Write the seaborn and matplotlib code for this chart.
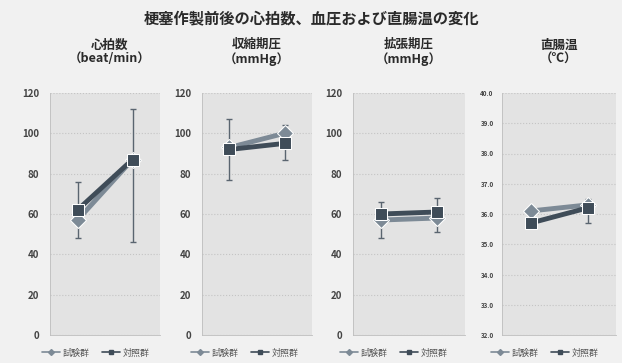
import numpy as np
import pandas as pd
import matplotlib
matplotlib.use("Agg")
import matplotlib.pyplot as plt
import seaborn as sns

sns.set_theme(style="white")
plt.rcParams['font.family'] = ['Noto Sans CJK JP', 'DejaVu Sans']

title = "梗塞作製前後の心拍数、血圧および直腸温の変化"
panel_titles = ["心拍数\n（beat/min）", "収縮期圧\n（mmHg）", "拡張期圧\n（mmHg）", "直腸温\n（℃）"]
groups = ["試験群", "対照群"]
timepoints = ["前", "後"]

# means: [before, after]
test_mean = [[57, 87], [93, 100], [57, 58], [36.1, 36.3]]
ctrl_mean = [[62, 87], [92, 95], [60, 61], [35.7, 36.2]]
# test group errors drawn downward, control group errors drawn upward
test_err = [[9, 41], [16, 13], [9, 7], [0.3, 0.6]]
ctrl_err = [[14, 25], [15, 9], [6, 7], [0.2, 0.3]]

yticks = [list(range(0, 121, 20))] * 3 + [[32.0 + i for i in range(9)]]
ylims = [(0, 120)] * 3 + [(32.0, 40.0)]

fig = plt.figure(figsize=(6.22, 3.63), dpi=100)
fig.patch.set_facecolor("#f1f1f1")

W, H = 622, 363
boxes = [(50, 160), (202, 312), (353, 465), (502, 616)]
legend_cx = [96, 245, 394, 545]
top_px, bot_px = 93, 335

col_test = "#7d8a96"
col_ctrl = "#3f4c58"

fig.text(0.5, 1 - 18 / H, title, ha="center", va="center",
         fontsize=11, fontweight="bold", color="#2a2a2a")

for i, (x0, x1) in enumerate(boxes):
    ax = fig.add_axes([x0 / W, 1 - bot_px / H, (x1 - x0) / W, (bot_px - top_px) / H])
    ax.set_facecolor("#e3e3e3")
    df = pd.DataFrame({
        "t": [0, 1, 0, 1],
        "v": test_mean[i] + ctrl_mean[i],
        "g": [groups[0]] * 2 + [groups[1]] * 2,
    })
    sns.lineplot(data=df, x="t", y="v", hue="g", style="g",
                 palette={groups[0]: col_test, groups[1]: col_ctrl},
                 markers={groups[0]: "D", groups[1]: "s"}, dashes=False,
                 linewidth=3.5, markersize=8, ax=ax, legend=False, zorder=3)
    ax.errorbar([0, 1], test_mean[i], yerr=[test_err[i], [0, 0]], fmt="none",
                ecolor="#5a6570", elinewidth=1, capsize=2, zorder=2)
    ax.errorbar([0, 1], ctrl_mean[i], yerr=[[0, 0], ctrl_err[i]], fmt="none",
                ecolor="#5a6570", elinewidth=1, capsize=2, zorder=2)
    ax.set_xlim(-0.5, 1.5)
    ax.set_ylim(*ylims[i])
    ax.set_yticks(yticks[i])
    if i == 3:
        ax.set_yticklabels([f"{v:.1f}" for v in yticks[i]], fontsize=4.5,
                           fontweight="bold", color="#444444")
    else:
        ax.set_yticklabels([str(v) for v in yticks[i]], fontsize=7,
                           fontweight="bold", color="#444444")
    ax.set_xticks([])
    ax.set_xlabel("")
    ax.set_ylabel("")
    ax.tick_params(axis="y", length=0, pad=8 if i < 3 else 6)
    ax.grid(axis="y", color="#c4c4c4", linestyle=":", linewidth=0.8)
    for s in ["top", "right"]:
        ax.spines[s].set_visible(False)
    ax.spines["left"].set_color("#bdbdbd")
    ax.spines["bottom"].set_color("#bdbdbd")
    ax.spines["left"].set_linewidth(0.6)
    ax.spines["bottom"].set_linewidth(0.6)

    cx = (x0 + x1) / 2 + (0 if i != 0 else 5)
    fig.text(cx / W, 1 - 52 / H, panel_titles[i], ha="center", va="center",
             fontsize=9, fontweight="bold", color="#2a2a2a", linespacing=1.1)

    h1 = plt.Line2D([], [], color=col_test, marker="D", markersize=3, linewidth=1.2)
    h2 = plt.Line2D([], [], color=col_ctrl, marker="s", markersize=3, linewidth=1.2)
    fig.legend([h1, h2], groups, loc="center", bbox_to_anchor=(legend_cx[i] / W, 1 - 353 / H),
               ncol=2, frameon=False, fontsize=6.5, handlelength=2.0, handletextpad=0.3,
               columnspacing=1.4, labelcolor="#555555")

fig.savefig("out.png", dpi=100, facecolor=fig.get_facecolor())
